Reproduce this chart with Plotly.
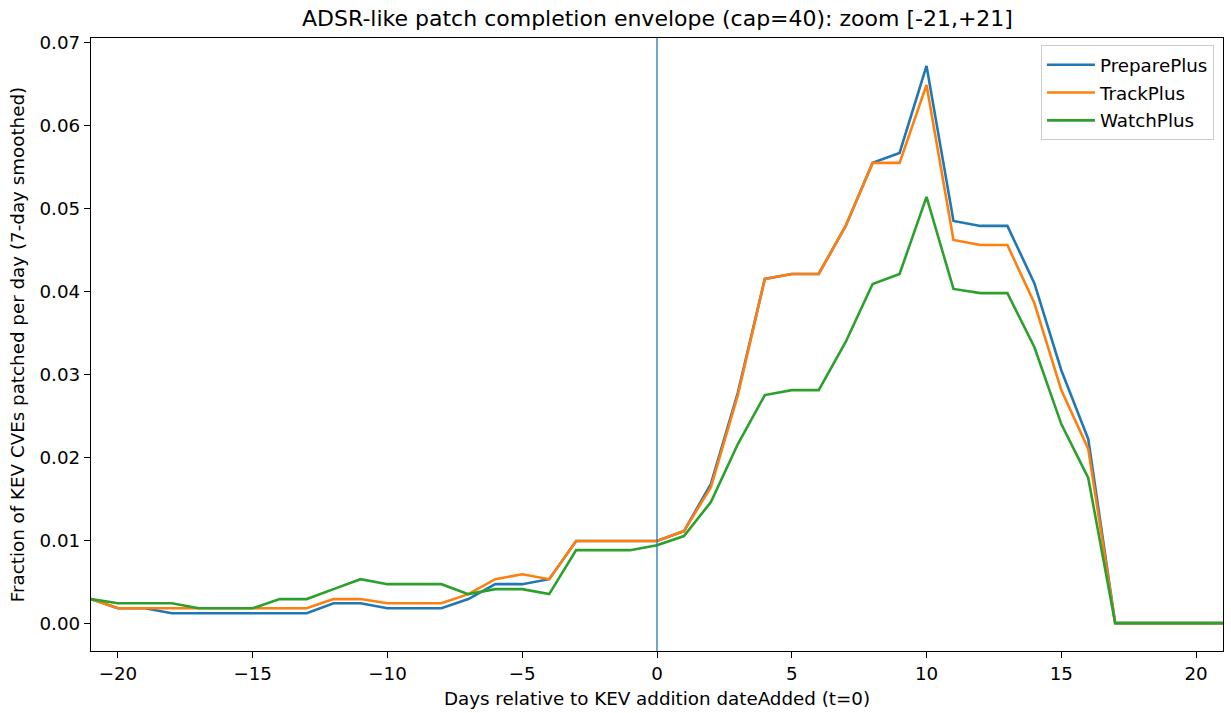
import plotly.graph_objects as go

days = list(range(-21, 22))

prepare_plus = [0.0029, 0.0018, 0.0018, 0.0012, 0.0012, 0.0012, 0.0012, 0.0012, 0.0012,
                0.0024, 0.0024, 0.0018, 0.0018, 0.0018, 0.0029, 0.0047, 0.0047, 0.0053,
                0.0099, 0.0099, 0.0099, 0.0099, 0.0111, 0.0168, 0.0278, 0.0415, 0.0421,
                0.0421, 0.0479, 0.0555, 0.0567, 0.0672, 0.0485, 0.0479, 0.0479, 0.0410,
                0.0305, 0.0222, 0.0, 0.0, 0.0, 0.0, 0.0]

track_plus = [0.0029, 0.0018, 0.0018, 0.0018, 0.0018, 0.0018, 0.0018, 0.0018, 0.0018,
              0.0029, 0.0029, 0.0024, 0.0024, 0.0024, 0.0035, 0.0053, 0.0059, 0.0053,
              0.0099, 0.0099, 0.0099, 0.0099, 0.0111, 0.0164, 0.0275, 0.0415, 0.0421,
              0.0421, 0.0479, 0.0555, 0.0555, 0.0649, 0.0462, 0.0456, 0.0456, 0.0386,
              0.0281, 0.0210, 0.0, 0.0, 0.0, 0.0, 0.0]

watch_plus = [0.0029, 0.0024, 0.0024, 0.0024, 0.0018, 0.0018, 0.0018, 0.0029, 0.0029,
              0.0041, 0.0053, 0.0047, 0.0047, 0.0047, 0.0035, 0.0041, 0.0041, 0.0035,
              0.0088, 0.0088, 0.0088, 0.0094, 0.0105, 0.0146, 0.0216, 0.0275, 0.0281,
              0.0281, 0.0339, 0.0409, 0.0421, 0.0514, 0.0403, 0.0398, 0.0398, 0.0333,
              0.0240, 0.0175, 0.0, 0.0, 0.0, 0.0, 0.0]

series = [("PreparePlus", prepare_plus, "#1f77b4"),
          ("TrackPlus", track_plus, "#ff7f0e"),
          ("WatchPlus", watch_plus, "#2ca02c")]

x_ticks = [-20, -15, -10, -5, 0, 5, 10, 15, 20]
y_ticks = [0.0, 0.01, 0.02, 0.03, 0.04, 0.05, 0.06, 0.07]

fig = go.Figure()
for name, vals, color in series:
    fig.add_trace(go.Scatter(x=days, y=vals, mode="lines", name=name, legendgroup=name,
                             line=dict(color=color, width=2.6)))

fig.add_shape(type="line", xref="x", yref="paper", x0=0, x1=0, y0=0, y1=1,
              line=dict(color="#1f77b4", width=1.3))

font_family = "DejaVu Sans"
fs = 18.3
fig.update_layout(
    width=1231, height=713,
    margin=dict(l=91, r=7, t=38, b=60),
    paper_bgcolor="white", plot_bgcolor="white",
    font=dict(family=font_family, size=fs, color="black"),
    title=dict(text="ADSR-like patch completion envelope (cap=40): zoom [-21,+21]",
               x=(91 + 1224) / 2 / 1231, xanchor="center", y=1 - 18 / 713, yanchor="middle",
               font=dict(size=22, family=font_family)),
    showlegend=True,
    legend=dict(x=0.992, xanchor="right", y=0.988, yanchor="top",
                bgcolor="rgba(255,255,255,0.8)", bordercolor="#cccccc", borderwidth=1,
                font=dict(size=fs, family=font_family), tracegroupgap=1, itemwidth=48),
    xaxis=dict(range=[-21, 21], tickvals=x_ticks, ticks="outside", ticklen=6, tickwidth=1.3,
               tickcolor="black", showline=True, linecolor="black", linewidth=1.3, mirror=True,
               showgrid=False, zeroline=False,
               title=dict(text="Days relative to KEV addition dateAdded (t=0)", standoff=9,
                          font=dict(size=fs))),
    yaxis=dict(range=[-0.00336, 0.07056], tickvals=y_ticks, tickformat=".2f", ticks="outside",
               ticklen=6, tickwidth=1.3, tickcolor="black", showline=True, linecolor="black",
               linewidth=1.3, mirror=True, showgrid=False, zeroline=False,
               title=dict(text="Fraction of KEV CVEs patched per day (7-day smoothed)", standoff=10,
                          font=dict(size=fs))),
)

fig.write_html("out.html")
